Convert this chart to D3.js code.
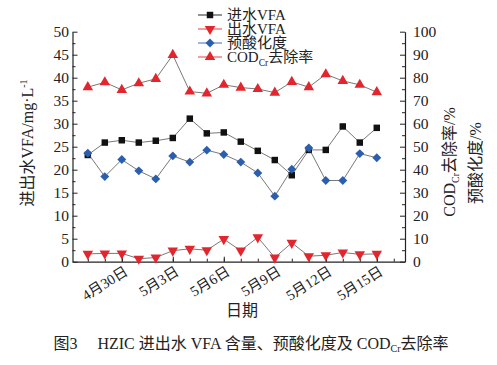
<!DOCTYPE html>
<html><head><meta charset="utf-8">
<script src="https://cdn.jsdelivr.net/npm/d3@7"></script>
<style>body{margin:0;background:#fff}svg{display:block}text{font-family:"Liberation Serif","Noto Sans CJK SC",serif;fill:#222}</style>
</head><body><svg id="c" width="497" height="365"></svg>
<script>
const dates = ["4/28","4/29","4/30","5/1","5/2","5/3","5/4","5/5","5/6","5/7","5/8","5/9","5/10","5/11","5/12","5/13","5/14","5/15"];
const tickLabels = ["4月30日","5月3日","5月6日","5月9日","5月12日","5月15日"];
const tickIdx = [2,5,8,11,14,17];
const inVFA = [23.2,25.9,26.4,25.9,26.3,26.9,31.1,27.9,28.1,26.1,24.1,22.1,18.8,24.3,24.3,29.4,25.9,29.1];
const outVFA = [1.7,1.8,1.8,0.65,0.9,2.4,2.8,2.5,4.9,2.4,5.3,0.9,4.1,1.2,1.4,2.0,1.6,1.7];
const preAcid = [47.2,37.0,44.4,39.5,36.0,46.0,43.3,48.5,46.6,43.3,38.6,28.5,40.2,49.4,35.3,35.3,47.0,45.2];
const codRem = [75.9,78.0,74.7,77.6,79.5,89.9,74.0,73.2,76.9,75.7,75.1,73.5,78.2,75.9,81.5,78.6,76.9,73.7];

const svg = d3.select("#c");
const L=72.5, R=405, T=31.7, B=261.7;
const x = d3.scaleLinear().domain([-0.9,18.66]).range([L,R]);
const yL = d3.scaleLinear().domain([0,50]).range([B,T]);
const yR = d3.scaleLinear().domain([0,100]).range([B,T]);
const red="#e3262e", blue="#2b5fae", black="#111", lineC="#555";

function styleAxis(g){g.selectAll("path").attr("stroke","#222").attr("stroke-width",1.2);g.selectAll("line").attr("stroke","#222").attr("stroke-width",1);}

// left axis
svg.append("g").attr("transform",`translate(${L},0)`)
  .call(d3.axisLeft(yL).tickValues(d3.range(0,51,5)).tickSize(-5).tickPadding(3.5).tickSizeOuter(0))
  .call(styleAxis).call(g=>g.selectAll("text").attr("font-size",15.5).style("font-family","Liberation Serif"));
svg.append("g").attr("transform",`translate(${L},0)`)
  .call(d3.axisLeft(yL).tickValues(d3.range(2.5,50,5)).tickSize(-3).tickFormat("")).call(styleAxis)
  .call(g=>g.select("path").remove());
// right axis
svg.append("g").attr("transform",`translate(${R},0)`)
  .call(d3.axisRight(yR).tickValues(d3.range(0,101,10)).tickSize(-5).tickPadding(8).tickSizeOuter(0))
  .call(styleAxis).call(g=>g.selectAll("text").attr("font-size",15.5).style("font-family","Liberation Serif"));
svg.append("g").attr("transform",`translate(${R},0)`)
  .call(d3.axisRight(yR).tickValues(d3.range(5,100,10)).tickSize(-3).tickFormat("")).call(styleAxis)
  .call(g=>g.select("path").remove());
// bottom axis
svg.append("g").attr("transform",`translate(0,${B})`)
  .call(d3.axisBottom(x).tickValues(tickIdx).tickSize(-5).tickSizeOuter(0).tickFormat((d,i)=>tickLabels[i]))
  .call(styleAxis)
  .call(g=>g.selectAll("text").attr("font-size",14.5).attr("text-anchor","end")
     .attr("transform","translate(4,8) rotate(-32)").attr("dy","0.35em").attr("y",0));
svg.append("g").attr("transform",`translate(0,${B})`)
  .call(d3.axisBottom(x).tickValues(d3.range(0,19)).tickSize(-3).tickFormat("")).call(styleAxis)
  .call(g=>g.select("path").remove());

// series
const series = [
  {name:"进水VFA", vals:inVFA, y:yL, color:black, sym:d3.symbolSquare, size:42, rot:0},
  {name:"出水VFA", vals:outVFA, y:yL, color:red, sym:d3.symbolTriangle, size:48, rot:180},
  {name:"预酸化度", vals:preAcid, y:yR, color:blue, sym:d3.symbolSquare, size:40, rot:45},
  {name:"COD", vals:codRem, y:yR, color:red, sym:d3.symbolTriangle, size:48, rot:0}
];
series.forEach(s=>{
  const line = d3.line().x((d,i)=>x(i)).y(d=>s.y(d));
  svg.append("path").datum(s.vals).attr("d",line).attr("fill","none").attr("stroke",lineC).attr("stroke-width",0.8);
  svg.append("g").selectAll("path").data(s.vals).join("path")
    .attr("d",d3.symbol(s.sym,s.size))
    .attr("transform",(d,i)=>`translate(${x(i)},${s.y(d)}) rotate(${s.rot})`)
    .attr("fill",s.color);
});

// legend
const ly=[15,29,43,57];
series.forEach((s,i)=>{
  const g=svg.append("g").attr("transform",`translate(0,${ly[i]})`);
  g.append("line").attr("x1",198).attr("x2",222).attr("y1",0).attr("y2",0).attr("stroke",s.color).attr("stroke-width",0.9);
  g.append("path").attr("d",d3.symbol(s.sym,s.size)()).attr("transform",`translate(210,0) rotate(${s.rot})`).attr("fill",s.color);
  const t=g.append("text").attr("x",227).attr("y",5).attr("font-size",15);
  if(s.name==="COD"){
    t.append("tspan").text("COD");
    t.append("tspan").attr("font-size",9.5).attr("dy",4).text("Cr");
    t.append("tspan").attr("dy",-4).text("去除率");
  } else t.text(s.name);
});

// axis titles
svg.append("text").attr("transform","translate(33,143) rotate(-90)").attr("text-anchor","middle").attr("font-size",16)
  .call(t=>{t.append("tspan").text("进出水VFA/mg·L");t.append("tspan").attr("font-size",10).attr("dy",-6).text("-1");});
svg.append("text").attr("transform","translate(455,162) rotate(-90)").attr("text-anchor","middle").attr("font-size",16)
  .call(t=>{t.append("tspan").text("COD");t.append("tspan").attr("font-size",10).attr("dy",4).text("Cr");t.append("tspan").attr("dy",-4).text("去除率/%");});
svg.append("text").attr("transform","translate(481,163) rotate(-90)").attr("text-anchor","middle").attr("font-size",16).text("预酸化度/%");
svg.append("text").attr("x",242).attr("y",316).attr("text-anchor","middle").attr("font-size",16).text("日期");

// caption
svg.append("text").attr("x",251).attr("y",349).attr("text-anchor","middle").attr("font-size",16)
  .call(t=>{t.append("tspan").text("图3　 HZIC 进出水 VFA 含量、预酸化度及 COD");t.append("tspan").attr("font-size",10).attr("dy",3).text("Cr");t.append("tspan").attr("dy",-3).text("去除率");});
</script></body></html>
